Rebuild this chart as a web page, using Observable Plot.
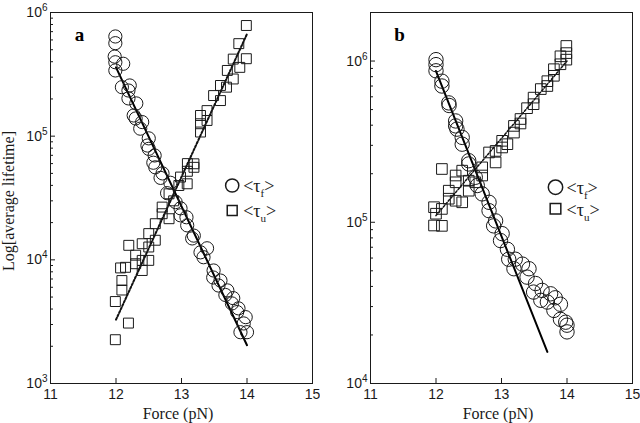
<!DOCTYPE html>
<html><head><meta charset="utf-8">
<script src="https://cdn.jsdelivr.net/npm/d3@7"></script>
<script src="https://cdn.jsdelivr.net/npm/@observablehq/plot@0.6"></script>
<style>
body{margin:0;background:#fff;}
#wrap{display:flex;width:640px;height:423px;overflow:hidden;}
</style></head><body><div id="wrap"></div>
<script>
// ---- data (Force in pN, lifetime) ----
const forceTicks = [11, 12, 13, 14, 15];
const yMajorsA = [1e3, 1e4, 1e5, 1e6];
const yMajorsB = [1e4, 1e5, 1e6];

// Panel a: folded-state lifetime <tau_f> (circles)
const aTauF = [[11.99,6.4e5],[11.99,5.65e5],[11.98,4.4e5],[11.99,3.96e5],[11.99,3.4e5],[12.11,3.85e5],[12.09,2.49e5],[12.21,2.57e5],[12.19,2.34e5],[12.19,2.02e5],[12.31,1.84e5],[12.27,1.47e5],[12.30,1.39e5],[12.40,1.30e5],[12.37,1.15e5],[12.50,9.6e4],[12.48,8.4e4],[12.50,7.9e4],[12.59,6.98e4],[12.57,6.1e4],[12.60,5.6e4],[12.71,5.0e4],[12.68,4.6e4],[12.83,4.2e4],[12.78,3.46e4],[12.91,2.93e4],[12.985,2.61e4],[12.985,2.29e4],[13.076,2.21e4],[13.087,1.90e4],[13.188,1.57e4],[13.163,1.49e4],[13.29,1.15e4],[13.39,1.24e4],[13.336,1.05e4],[13.49,8.2e3],[13.484,7.2e3],[13.595,6.8e3],[13.565,6.2e3],[13.70,5.66e3],[13.67,5.2e3],[13.79,4.9e3],[13.77,4.44e3],[13.87,4.05e3],[13.85,3.78e3],[13.98,3.44e3],[13.90,2.6e3],[14.00,2.6e3],[13.95,3.06e3]];
// Panel a: unfolded-state lifetime <tau_u> (squares)
const aTauU = [[11.99,2.26e3],[12.19,3.08e3],[11.99,4.6e3],[12.09,5.7e3],[12.09,6.8e3],[12.07,8.6e3],[12.195,1.31e4],[12.145,8.7e3],[12.30,9.3e3],[12.30,1.09e4],[12.40,8.2e3],[12.40,9.9e3],[12.40,1.35e4],[12.50,9.9e3],[12.50,1.63e4],[12.50,1.27e4],[12.60,1.44e4],[12.60,1.96e4],[12.705,2.36e4],[12.705,2.67e4],[12.81,2.15e4],[12.81,3.42e4],[12.88,3.0e4],[12.96,3.99e4],[12.985,4.67e4],[13.087,4.12e4],[13.09,5.2e4],[13.09,6.0e4],[13.19,5.98e4],[13.19,5.6e4],[13.29,1.08e5],[13.29,1.26e5],[13.29,1.47e5],[13.39,1.34e5],[13.39,1.61e5],[13.49,2.13e5],[13.595,1.94e5],[13.595,2.57e5],[13.687,2.49e5],[13.70,3.4e5],[13.79,2.9e5],[13.79,4.2e5],[13.89,3.6e5],[13.99,4.23e5],[13.875,5.6e5],[13.99,7.85e5]];
const aFitF = [[12, 3.6e5], [14, 2.04e3]];
const aFitU = [[12, 3.28e3], [14, 6.7e5]];

// Panel b
const bTauF = [[12.0,1.02e6],[12.0,9.5e5],[12.0,8.7e5],[12.09,7.5e5],[12.09,7.0e5],[12.195,5.5e5],[12.20,5.3e5],[12.30,4.25e5],[12.30,3.96e5],[12.32,3.78e5],[12.40,3.36e5],[12.40,3.05e5],[12.50,2.41e5],[12.50,2.3e5],[12.60,1.9e5],[12.63,1.69e5],[12.705,1.5e5],[12.81,1.33e5],[12.81,1.18e5],[12.91,1.02e5],[12.88,9.5e4],[13.01,8.5e4],[12.985,7.7e4],[13.09,6.8e4],[13.11,5.9e4],[13.19,5.15e4],[13.21,5.9e4],[13.32,5.5e4],[13.39,4.57e4],[13.42,5.15e4],[13.49,3.69e4],[13.52,4.17e4],[13.60,3.28e4],[13.62,3.78e4],[13.70,3.2e4],[13.75,3.6e4],[13.80,2.84e4],[13.82,3.4e4],[13.90,2.5e4],[13.90,3.1e4],[13.98,2.4e4],[14.0,2.09e4],[14.0,2.3e4]];
const bTauU = [[11.97,1.24e5],[12.0,1.13e5],[11.97,9.55e4],[12.09,9.5e4],[12.09,2.14e5],[12.09,1.21e5],[12.195,1.57e5],[12.195,1.4e5],[12.30,1.95e5],[12.30,1.77e5],[12.30,1.36e5],[12.40,2.09e5],[12.40,1.33e5],[12.50,1.81e5],[12.50,1.57e5],[12.60,1.77e5],[12.705,1.95e5],[12.705,2.19e5],[12.81,2.71e5],[12.91,2.35e5],[12.91,2.77e5],[13.01,3.2e5],[13.01,2.91e5],[13.09,3.05e5],[13.19,3.96e5],[13.19,3.6e5],[13.29,4.37e5],[13.29,4.1e5],[13.39,5.1e5],[13.49,5.93e5],[13.49,5.4e5],[13.60,6.7e5],[13.70,7.5e5],[13.70,7.0e5],[13.80,8.9e5],[13.80,8.1e5],[13.90,9.55e5],[13.90,1.07e6],[13.99,1.24e6],[13.99,1.12e6],[13.99,1.02e6]];
const bFitF = [[12, 8.67e5], [13.7, 1.57e4]];
const bFitU = [[12, 1.1e5], [14, 1.0e6]];

const labelF = "<τf>";
const labelU = "<τu>";

// ---- drawing ----
const serif = "'Liberation Serif', 'Times New Roman', serif";
const sans = "'Liberation Sans', Arial, Helvetica, sans-serif";
const ink = "#1a1a1a";

function panel(o) {
  const W = 320, H = 423, ml = 50, mr = 8, mt = 12, mb = 40;
  const iw = W - ml - mr, ih = H - mt - mb;
  const minors = [];
  const e0 = Math.round(Math.log10(o.yDomain[0])), e1 = Math.ceil(Math.log10(o.yDomain[1]));
  for (let e = e0; e < e1; e++) for (let m = 2; m <= 9; m++) {
    const v = m * Math.pow(10, e);
    if (v < o.yDomain[1]) minors.push(v);
  }
  const marks = [
    Plot.frame({stroke: ink, strokeWidth: 1}),
    Plot.tickX(forceTicks.slice(1, -1), {x: d => d, insetTop: ih - 5, stroke: ink}),
    Plot.tickY(o.majors, {y: d => d, insetRight: iw - 5, stroke: ink}),
    Plot.tickY(minors, {y: d => d, insetRight: iw - 3, stroke: ink}),
    Plot.axisX(forceTicks, {tickSize: 0, tickPadding: 6, label: null, tickFormat: d => String(d), fontSize: 14, fill: ink}),
    Plot.axisY(o.majors, {tickSize: 0, tickPadding: 3, label: null, tickFormat: d => "10|" + Math.round(Math.log10(d)), fontSize: 14, fill: ink}),
    Plot.line(o.fitF, {x: d => d[0], y: d => d[1], stroke: "#000", strokeWidth: 2}),
    Plot.line(o.fitU, {x: d => d[0], y: d => d[1], stroke: "#111", strokeWidth: o.fitUWidth, strokeDasharray: "2,1.8"}),
    Plot.dot(o.tauF, {x: d => d[0], y: d => d[1], r: o.rF, stroke: ink, strokeWidth: 1, fill: "none"}),
    Plot.dot(o.tauU, {x: d => d[0], y: d => d[1], r: o.rU, symbol: "square", stroke: ink, strokeWidth: 1, fill: "none"}),
    Plot.text([o.letter], {frameAnchor: "top-left", dx: 29, dy: 22, textAnchor: "middle", lineAnchor: "middle", fontFamily: serif, fontWeight: "bold", fontSize: 19, fill: "#000"}),
    Plot.text(["Force (pN)"], {frameAnchor: "bottom", dx: -3.5, dy: 30, textAnchor: "middle", lineAnchor: "middle", fontFamily: serif, fontSize: 16, fill: ink}),
    // legend
    Plot.dot([labelF], {frameAnchor: "top-left", dx: o.legX, dy: o.legY1, r: o.rF, stroke: ink, fill: "none"}),
    Plot.dot([labelU], {frameAnchor: "top-left", dx: o.legX, dy: o.legY2, r: o.rU, symbol: "square", stroke: ink, fill: "none"}),
    Plot.text([labelF], {frameAnchor: "top-left", dx: o.legX + 11, dy: o.legY1 + 1, textAnchor: "start", lineAnchor: "middle", fontFamily: serif, fontSize: 18, fill: ink}),
    Plot.text([labelU], {frameAnchor: "top-left", dx: o.legX + 11, dy: o.legY2 + 1, textAnchor: "start", lineAnchor: "middle", fontFamily: serif, fontSize: 18, fill: ink})
  ];
  if (o.yTitle) marks.push(Plot.text([o.yTitle], {frameAnchor: "left", dx: -42, dy: 3, rotate: -90, textAnchor: "middle", lineAnchor: "middle", fontFamily: serif, fontSize: 16, fill: ink}));
  const svg = Plot.plot({
    width: W, height: H, marginLeft: ml, marginRight: mr, marginTop: mt, marginBottom: mb,
    style: {fontFamily: sans, fontSize: "14px", background: "white", color: ink},
    x: {domain: [11, 15]},
    y: {type: "log", domain: o.yDomain},
    marks
  });
  // post-process: superscript exponents and subscript legend labels
  svg.querySelectorAll("text").forEach(t => {
    const s = t.textContent;
    const m = /^10\|(\d+)$/.exec(s);
    if (m) {
      t.innerHTML = `10<tspan dy="-6" font-size="10">${m[1]}</tspan>`;
    } else if (s === labelF || s === labelU) {
      const sub = s === labelF ? "f" : "u";
      t.innerHTML = `&lt;τ<tspan dy="5" font-size="11">${sub}</tspan><tspan dy="-5">&gt;</tspan>`;
    }
  });
  return svg;
}

const wrap = document.getElementById("wrap");
wrap.append(panel({tauF: aTauF, tauU: aTauU, fitF: aFitF, fitU: aFitU, yDomain: [1e3, 1e6], majors: yMajorsA,
  letter: "a", yTitle: "Log[average lifetime]", rF: 6.6, rU: 5.6, fitUWidth: 2, legX: 181.7, legY1: 173, legY2: 198}));
wrap.append(panel({tauF: bTauF, tauU: bTauU, fitF: bFitF, fitU: bFitU, yDomain: [1e4, 2e6], majors: yMajorsB,
  letter: "b", yTitle: null, rF: 7.2, rU: 6.0, fitUWidth: 1.5, legX: 185, legY1: 174.7, legY2: 196.3}));
</script>
</body></html>
